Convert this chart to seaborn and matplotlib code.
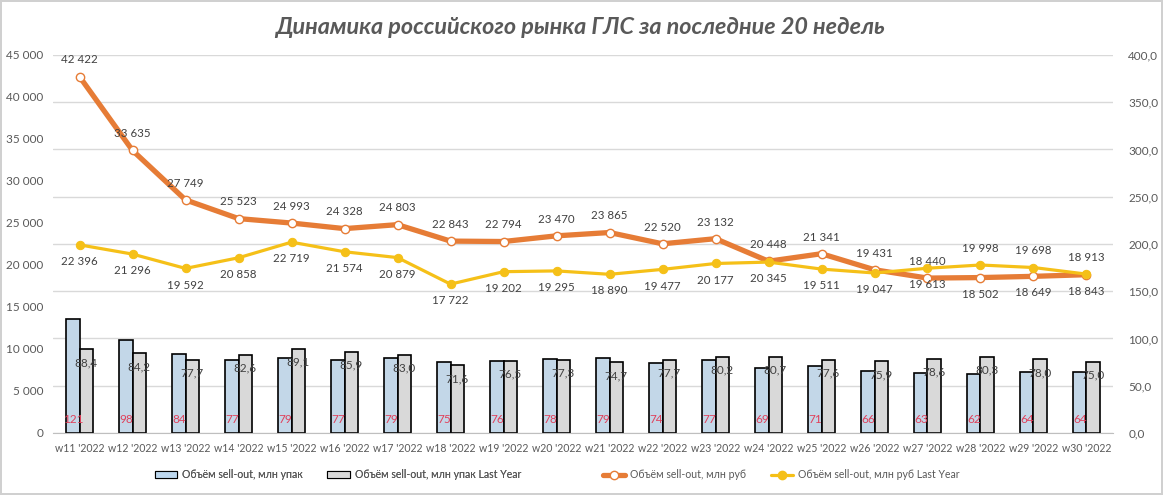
import numpy as np
import pandas as pd
import seaborn as sns
import matplotlib.pyplot as plt
from matplotlib.ticker import FuncFormatter, FixedLocator
from matplotlib.patches import Patch
from matplotlib.lines import Line2D

weeks = ["w11 '2022", "w12 '2022", "w13 '2022", "w14 '2022", "w15 '2022",
         "w16 '2022", "w17 '2022", "w18 '2022", "w19 '2022", "w20 '2022",
         "w21 '2022", "w22 '2022", "w23 '2022", "w24 '2022", "w25 '2022",
         "w26 '2022", "w27 '2022", "w28 '2022", "w29 '2022", "w30 '2022"]

packs = [121, 98, 84, 77, 79, 77, 79, 75, 76, 78,
         79, 74, 77, 69, 71, 66, 63, 62, 64, 64]
packs_ly = [88.4, 84.2, 77.7, 82.6, 89.1, 85.9, 83.0, 71.6, 76.5, 77.3,
            74.7, 77.7, 80.2, 80.7, 77.6, 75.9, 78.6, 80.3, 78.0, 75.0]
rub = [42422, 33635, 27749, 25523, 24993, 24328, 24803, 22843, 22794, 23470,
       23865, 22520, 23132, 20448, 21341, 19431, 18440, 18502, 18649, 18843]
rub_ly = [22396, 21296, 19592, 20858, 22719, 21574, 20879, 17722, 19202, 19295,
          18890, 19477, 20177, 20345, 19511, 19047, 19613, 19998, 19698, 18913]

lbl_packs = "Объём sell-out, млн упак"
lbl_packs_ly = "Объём sell-out, млн упак Last Year"
lbl_rub = "Объём sell-out, млн руб"
lbl_rub_ly = "Объём sell-out, млн руб Last Year"

c_blue = "#BDD7EE"
c_gray = "#D9D9D9"
c_orange = "#E67C36"
c_yellow = "#F5C018"
c_text = "#595959"
c_lbl = "#404040"

sns.set_style("white")
plt.rcParams["font.family"] = ["Lato", "DejaVu Sans"]

fig = plt.figure(figsize=(11.63, 4.95), dpi=100, edgecolor="#D0D0D0", linewidth=1.5)
ax = fig.add_axes([0.0456, 0.1253, 0.9114, 0.7636])

# bars (secondary scale 0..400, drawn on the base axes so lines sit on top)
bars_df = pd.DataFrame({
    "week": weeks * 2,
    "value": packs + packs_ly,
    "series": [lbl_packs] * len(weeks) + [lbl_packs_ly] * len(weeks),
})
sns.barplot(data=bars_df, x="week", y="value", hue="series",
            palette=[c_blue, c_gray], width=0.5, edgecolor="black",
            linewidth=1.2, legend=False, ax=ax)
ax.set_ylim(0, 400)
ax.set_xlim(-0.5, len(weeks) - 0.5)
ax.grid(axis="y", color="#D9D9D9", linewidth=1)
ax.set_axisbelow(True)
ax.set_xlabel("")
ax.set_ylabel("")
ax.tick_params(axis="x", length=0, pad=7, labelsize=7.6, labelcolor=c_text)
ax.set_xticks(np.arange(-0.5, len(weeks), 1), minor=True)
ax.tick_params(axis="x", which="minor", length=4, color="#BFBFBF", width=1)
for s in ["top", "left", "right"]:
    ax.spines[s].set_visible(False)
ax.spines["bottom"].set_color("#BFBFBF")

for i, (a, b) in enumerate(zip(packs, packs_ly)):
    ax.annotate(f"{a}", (i - 0.125, 0), xytext=(0, 9.5), textcoords="offset points",
                ha="center", va="center", fontsize=8.5, color="#E0405A")
    ax.annotate(f"{b:.1f}".replace(".", ","), (i + 0.125, b), xytext=(0, -9.5),
                textcoords="offset points", ha="center", va="center",
                fontsize=8.5, color=c_lbl)

# lines (primary scale 0..45000, left side)
ax2 = ax.twinx()
pos = np.arange(len(weeks))
sns.lineplot(x=pos, y=rub, color=c_orange, linewidth=3.8, marker="o",
             markersize=6, markerfacecolor="white", markeredgecolor=c_orange,
             markeredgewidth=1, ax=ax2)
sns.lineplot(x=pos, y=rub_ly, color=c_yellow, linewidth=2.3, marker="o",
             markersize=6, markerfacecolor=c_yellow, markeredgecolor=c_yellow, ax=ax2)
ax2.set_ylim(0, 45000)
for s in ["top", "left", "right", "bottom"]:
    ax2.spines[s].set_visible(False)
ax2.grid(False)

# twinx resets the sides, so set them afterwards
ax.yaxis.tick_right()
ax.yaxis.set_label_position("right")
ax.yaxis.set_major_locator(FixedLocator(np.arange(0, 401, 50)))
ax.yaxis.set_major_formatter(FuncFormatter(lambda v, p: f"{v:.1f}".replace(".", ",")))
ax.tick_params(axis="y", length=0, pad=11, labelsize=8.5, labelcolor=c_text)
ax2.yaxis.tick_left()
ax2.yaxis.set_label_position("left")
ax2.yaxis.set_major_locator(FixedLocator(np.arange(0, 45001, 5000)))
ax2.yaxis.set_major_formatter(FuncFormatter(lambda v, p: f"{int(v):,}".replace(",", " ")))
ax2.tick_params(axis="y", length=0, pad=7, labelsize=8.5, labelcolor=c_text)
ax2.set_ylabel("")

swap_from = 17  # last weeks: yellow labels go above, orange below
for i, (o, y) in enumerate(zip(rub, rub_ly)):
    up = 1 if i < swap_from else -1
    ax2.annotate(f"{o:,}".replace(",", " "), (i, o), xytext=(0, 12 * up),
                 textcoords="offset points", ha="center", va="center",
                 fontsize=8.3, color=c_lbl)
    ax2.annotate(f"{y:,}".replace(",", " "), (i, y), xytext=(0, -12 * up),
                 textcoords="offset points", ha="center", va="center",
                 fontsize=8.3, color=c_lbl)

fig.text(0.499, 1 - 27 / 495, "Динамика российского рынка ГЛС за последние 20 недель",
         ha="center", va="center", fontsize=16.8, fontweight="bold",
         fontstyle="italic", color=c_text)

h_blue = Patch(facecolor=c_blue, edgecolor="black", linewidth=0.8)
h_gray = Patch(facecolor=c_gray, edgecolor="black", linewidth=0.8)
h_orange = Line2D([], [], color=c_orange, linewidth=3.8, marker="o", markersize=6,
                  markerfacecolor="white", markeredgecolor=c_orange)
h_yellow = Line2D([], [], color=c_yellow, linewidth=2.3, marker="o", markersize=6,
                  markerfacecolor=c_yellow, markeredgecolor=c_yellow)
leg_kw = dict(loc="center left", ncol=2, frameon=False, fontsize=7.6,
              labelcolor=c_text, handlelength=2.1, handleheight=0.65,
              columnspacing=2.3, handletextpad=0.5, borderaxespad=0, borderpad=0)
leg1 = fig.legend([h_blue, h_gray], [lbl_packs, lbl_packs_ly],
                  bbox_to_anchor=(155 / 1163, 1 - 475 / 495), **leg_kw)
fig.add_artist(leg1)
fig.legend([h_orange, h_yellow], [lbl_rub, lbl_rub_ly],
           bbox_to_anchor=(603 / 1163, 1 - 475 / 495), **leg_kw)

fig.savefig("out.png", dpi=100)
